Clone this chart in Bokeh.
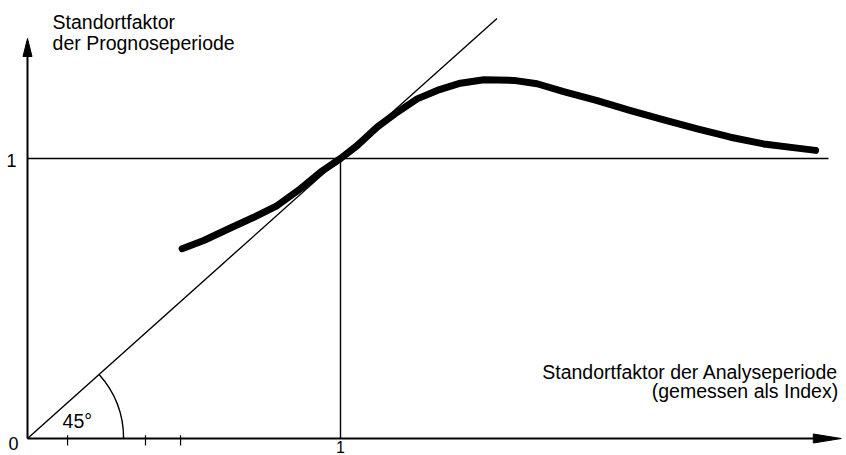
import math
from bokeh.plotting import figure
from bokeh.models import Range1d
from bokeh.core.properties import value
from bokeh.embed import file_html
from bokeh.resources import INLINE

# --- data ---
curve_x = [0.494, 0.563, 0.643, 0.723, 0.798, 0.872, 0.936, 1.0, 1.053, 1.117, 1.181,
           1.245, 1.309, 1.383, 1.458, 1.554, 1.628, 1.713, 1.820, 1.927, 2.033,
           2.140, 2.246, 2.352, 2.459, 2.518]
curve_y = [0.678, 0.707, 0.749, 0.790, 0.832, 0.892, 0.951, 1.0, 1.046, 1.112, 1.165,
           1.213, 1.243, 1.269, 1.281, 1.279, 1.267, 1.239, 1.207, 1.171, 1.138,
           1.106, 1.076, 1.052, 1.037, 1.029]

diag_end = 1.5            # 45-degree line y = x
ref_level = 1.0           # index 1
hline_end = 2.559
x_axis_end = 2.60
y_axis_end = 1.4286
minor_ticks_x = [0.128, 0.377, 0.489]
arc_radius = 0.307

x_title = ["Standortfaktor der Analyseperiode", "(gemessen als Index)"]
y_title = ["Standortfaktor", "der Prognoseperiode"]
angle_label = "45°"

# --- layout ---
W, H = 846, 455
PX_X, PX_Y = 313.0, 280.0        # pixels per unit
X0, Y0 = 27, 438                 # canvas position of origin
FONT = "Liberation Sans"

p = figure(width=W, height=H, output_backend="svg", toolbar_location=None,
           x_axis_type=None, y_axis_type=None,
           x_range=Range1d(-X0 / PX_X, (W - X0) / PX_X),
           y_range=Range1d(-(H - Y0) / PX_Y, Y0 / PX_Y),
           min_border=0, outline_line_color=None)
p.xgrid.visible = False
p.ygrid.visible = False
p.background_fill_color = "white"
p.border_fill_color = "white"

ink = "#000000"

# axes lines
p.line([0, x_axis_end - 0.05], [0, 0], line_color=ink, line_width=2)
p.line([0, 0], [0, y_axis_end - 0.03], line_color=ink, line_width=2)
# arrow heads
ax_len, ax_hw = 28 / PX_X, 4.5 / PX_Y
ay_len, ay_hw = 18 / PX_Y, 4.5 / PX_X
p.patch([x_axis_end, x_axis_end - ax_len, x_axis_end - ax_len],
        [0, ax_hw, -ax_hw], fill_color=ink, line_color=ink)
p.patch([0, ay_hw, -ay_hw], [y_axis_end, y_axis_end - ay_len, y_axis_end - ay_len],
        fill_color=ink, line_color=ink)

# minor tick marks on x axis
p.segment(x0=minor_ticks_x, y0=[-0.025] * len(minor_ticks_x),
          x1=minor_ticks_x, y1=[0.012] * len(minor_ticks_x),
          line_color=ink, line_width=1.2)

# reference lines
p.line([0, diag_end], [0, diag_end], line_color=ink, line_width=1.4)
p.line([0, hline_end], [ref_level, ref_level], line_color=ink, line_width=1.4)
p.line([ref_level, ref_level], [0, ref_level], line_color=ink, line_width=1.4)

# 45 degree arc
p.arc(x=0, y=0, radius=arc_radius, start_angle=0,
      end_angle=math.atan2(PX_Y, PX_X), line_color=ink, line_width=1.4)

# main curve
p.line(curve_x, curve_y, line_color=ink, line_width=7, line_cap="round", line_join="round")

# texts
fs = "19.5px"
def txt(x, y, s, align="left", baseline="alphabetic", size=fs):
    p.text(x=[x], y=[y], text=[s], text_font=value(FONT), text_font_size=size,
           text_align=align, text_baseline=baseline, text_color=ink)

txt(0.080, 1.486, y_title[0])
txt(0.080, 1.411, y_title[1])
txt(2.590, 0.239, x_title[0], align="right")
txt(2.590, 0.171, x_title[1], align="right")
txt(0.112, 0.061, angle_label)
txt(-0.029, -0.018, "0", align="right", size="18px")
txt(-0.035, 0.993, "1", align="right", size="18px")
txt(1.0, -0.029, "1", align="center", size="16px")

open("out.html", "w").write(file_html(p, INLINE))
